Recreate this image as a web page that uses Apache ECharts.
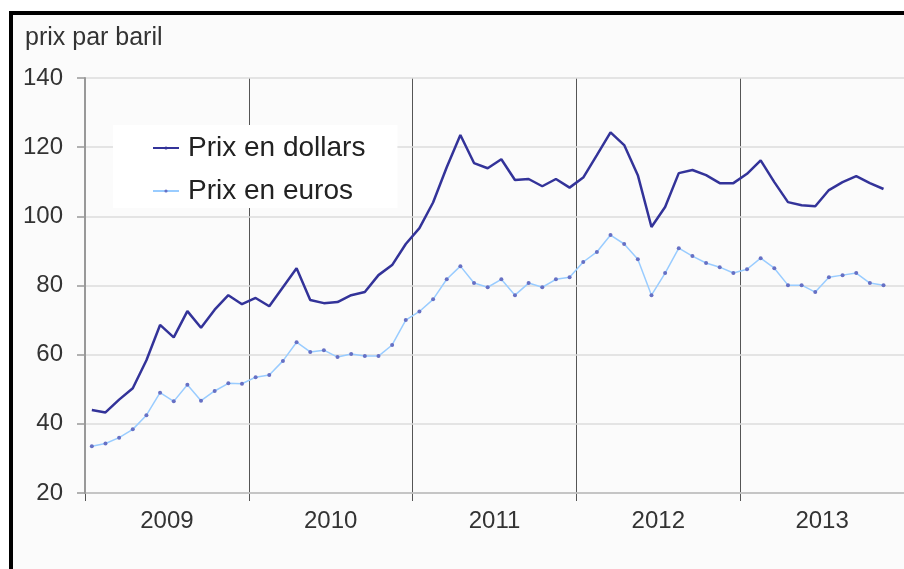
<!DOCTYPE html>
<html>
<head>
<meta charset="utf-8">
<script src="https://cdn.jsdelivr.net/npm/echarts@6/dist/echarts.min.js"></script>
<style>
  html, body { margin: 0; padding: 0; background: #ffffff; }
  #frame { position: absolute; left: 9px; top: 11px; width: 1000px; height: 1000px; border: 4px solid #000; background: #fbfbfb; }
  #chart { position: absolute; left: 0; top: 0; width: 904px; height: 569px; }
</style>
</head>
<body>
<div id="frame"></div>
<div id="chart"></div>
<script>
// Year tick labels
const years = ['2009', '2010', '2011', '2012', '2013'];
const monthNames = ['janv.', 'févr.', 'mars', 'avr.', 'mai', 'juin', 'juil.', 'août', 'sept.', 'oct.', 'nov.', 'déc.'];
const months = [];
years.forEach(function (y) { monthNames.forEach(function (m) { months.push(m + ' ' + y); }); });

// Prix en dollars (monthly, Jan 2009 - Dec 2013)
const dollars = [
  44.0, 43.3, 47.0, 50.3, 58.4, 68.6, 65.0, 72.6, 67.8, 73.0, 77.2, 74.6,
  76.4, 74.0, 79.5, 85.0, 75.8, 74.9, 75.2, 77.2, 78.1, 83.0, 85.9, 92.0,
  96.6, 104.0, 114.2, 123.5, 115.4, 113.9, 116.5, 110.5, 110.8, 108.7, 110.8, 108.3,
  111.2, 117.7, 124.3, 120.6, 111.9, 96.9, 102.7, 112.5, 113.4, 111.9, 109.6, 109.6,
  112.3, 116.2, 109.9, 104.1, 103.2, 102.9, 107.6, 109.9, 111.6, 109.6, 107.9, null
];
// Prix en euros
const euros = [
  33.5, 34.3, 36.0, 38.4, 42.5, 49.0, 46.5, 51.3, 46.7, 49.5, 51.7, 51.6,
  53.5, 54.1, 58.2, 63.6, 60.8, 61.3, 59.3, 60.2, 59.6, 59.6, 62.8, 70.0,
  72.5, 76.0, 81.8, 85.6, 80.7, 79.5, 81.8, 77.2, 80.7, 79.5, 81.8, 82.4,
  86.8, 89.7, 94.6, 92.0, 87.6, 77.2, 83.6, 90.8, 88.5, 86.5, 85.3, 83.6,
  84.7, 87.9, 85.0, 80.1, 80.1, 78.1, 82.4, 83.0, 83.6, 80.7, 80.1, null
];
const seriesNames = ['Prix en dollars', 'Prix en euros'];

const chart = echarts.init(document.getElementById('chart'), null, { renderer: 'canvas' });
const font = 'Liberation Sans, Arial, sans-serif';
chart.setOption({
  backgroundColor: 'transparent',
  animation: false,
  textStyle: { fontFamily: font },
  title: {
    text: 'prix par baril',
    left: 25, top: 26, padding: 0,
    textStyle: { fontFamily: font, fontSize: 25, fontWeight: 'normal', color: '#333' }
  },
  grid: { left: 85, top: 78, right: -5, bottom: 76, containLabel: false },
  legend: {
    orient: 'vertical',
    left: 113, top: 125,
    padding: [9, 32, 3, 39],
    backgroundColor: '#ffffff',
    itemWidth: 26, itemHeight: 4, itemGap: 15,
    data: seriesNames,
    textStyle: { fontFamily: font, fontSize: 28, color: '#222', lineHeight: 28, padding: [0, 0, 0, 4] }
  },
  xAxis: [
    {
      type: 'category', data: months, boundaryGap: true,
      axisLine: { show: false }, axisTick: { show: false }, axisLabel: { show: false },
      splitLine: { show: false }
    },
    {
      type: 'category', data: years, boundaryGap: true, position: 'bottom',
      axisLine: { show: true, lineStyle: { color: '#555', width: 1.5 } },
      axisTick: { show: true, length: 8, lineStyle: { color: '#555', width: 1 } },
      axisLabel: { fontSize: 24, color: '#333', margin: 16, fontFamily: font },
      splitLine: { show: true, showMinLine: false, lineStyle: { color: '#555', width: 1 } }
    }
  ],
  yAxis: {
    type: 'value', min: 20, max: 140, interval: 20, z: 3,
    axisLine: { show: true, lineStyle: { color: '#999', width: 2 } },
    axisTick: { show: true, length: 8, lineStyle: { color: '#999', width: 1.5 } },
    axisLabel: { fontSize: 24, color: '#333', margin: 22, fontFamily: font },
    splitLine: { show: true, lineStyle: { color: '#dcdcdc', width: 1.5 } }
  },
  series: [
    {
      name: seriesNames[0], type: 'line', xAxisIndex: 0, data: dollars,
      showSymbol: false, symbol: 'none',
      lineStyle: { color: '#333399', width: 2.5 },
      itemStyle: { color: '#333399' }
    },
    {
      name: seriesNames[1], type: 'line', xAxisIndex: 0, data: euros,
      symbol: 'circle', symbolSize: 4, showSymbol: true,
      lineStyle: { color: '#99ccff', width: 1.5 },
      itemStyle: { color: '#6670c4' }
    }
  ]
});
</script>
</body>
</html>
